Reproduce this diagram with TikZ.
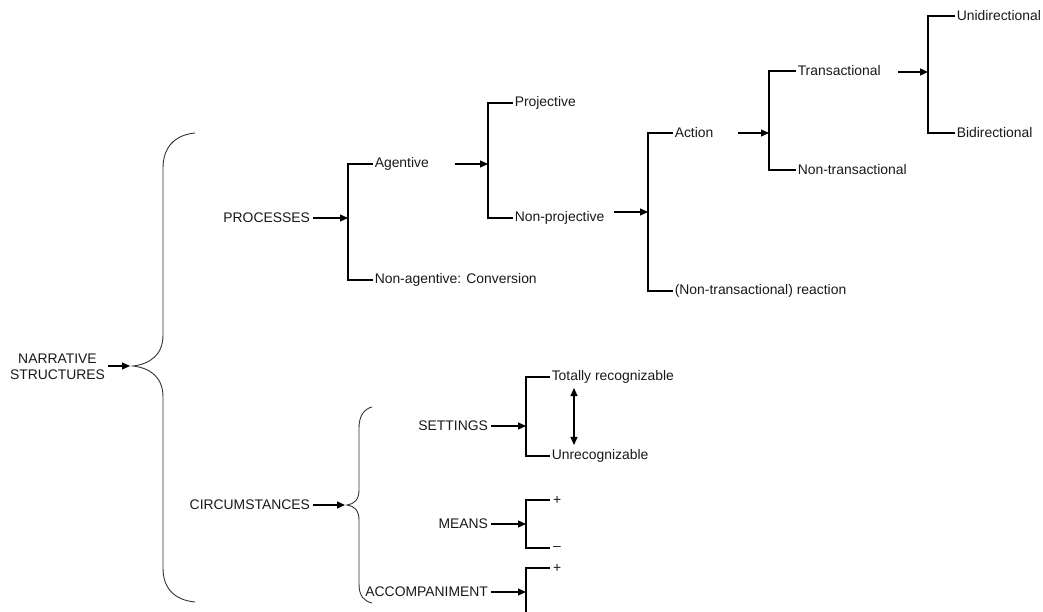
\documentclass[tikz,border=0pt]{standalone}
\usepackage{fontspec}
\setmainfont{Liberation Sans}
\usetikzlibrary{arrows.meta}
\begin{document}
\begin{tikzpicture}[x=1pt,y=-1pt,
  line width=1.1pt,
  every node/.style={font=\fontsize{13.9}{16}\selectfont, text=black!90},
  rlabel/.style={anchor=west, inner xsep=1.2pt, inner ysep=1pt},
  llabel/.style={anchor=east, inner xsep=2.5pt, inner ysep=1pt},
  arr/.style={-{Triangle[length=8pt,width=7pt]}},
  dbl/.style={{Triangle[length=8pt,width=7pt]}-{Triangle[length=8pt,width=7pt]}},
  brace/.style={line width=0.9pt, black!80}]
\clip (0,0) rectangle (1043,612);
\useasboundingbox (0,0) rectangle (1043,612);

% spines of the brackets (where the arrows land)
\coordinate (bigtip) at (133,366);
\coordinate (smalltip) at (347,505);
\coordinate (s1) at (348,218);
\coordinate (s2) at (488,164);
\coordinate (s3) at (648,212);
\coordinate (s4) at (769,133);
\coordinate (s5) at (928,72);
\coordinate (s6) at (526,426);
\coordinate (s7) at (526,524);
\coordinate (s8) at (526,592);
\coordinate (s8end) at (526,614);

% labels
\node[align=center, inner sep=2.5pt, font=\fontsize{13.9}{16}\selectfont] (narr) at (57.5,367) {NARRATIVE\\STRUCTURES};
\node[llabel] (proc) at (313,218) {PROCESSES};
\node[llabel] (circ) at (313,505) {CIRCUMSTANCES};
\node[llabel] (settings) at (491,426) {SETTINGS};
\node[llabel] (means) at (491,524) {MEANS};
\node[llabel] (accomp) at (491,592) {ACCOMPANIMENT};

\node[rlabel] (agentive) at (373,164) {Agentive};
\node[rlabel] (nonag) at (373,280) {Non-agentive: Conversion};
\node[rlabel] (projective) at (513,103) {Projective};
\node[rlabel] (nonproj) at (513,218) {Non-projective};
\node[rlabel] (action) at (673,133) {Action};
\node[rlabel] (reaction) at (673,291) {(Non-transactional) reaction};
\node[rlabel] (trans) at (796,71) {Transactional};
\node[rlabel] (nontrans) at (796,170) {Non-transactional};
\node[rlabel] (uni) at (955,16) {Unidirectional};
\node[rlabel] (bi) at (955,133) {Bidirectional};
\node[rlabel] (totally) at (550,377) {Totally recognizable};
\node[rlabel] (unrec) at (550,456) {Unrecognizable};
\node[rlabel, inner xsep=2.5pt] (mplus) at (550,500) {+};
\node[rlabel, inner xsep=2.5pt] (mminus) at (550,548) {--};
\node[rlabel, inner xsep=2.5pt] (aplus) at (550,568) {+};

% braces
\draw[brace] (195,133) .. controls (174,135) and (163,148) .. (163,168)
  -- (163,335) .. controls (163,355) and (150,364) .. (bigtip)
  .. controls (150,368) and (163,377) .. (163,397)
  -- (163,568) .. controls (163,588) and (174,600) .. (195,602);
\draw[brace] (372,407) .. controls (364,409) and (359,416) .. (359,428)
  -- (359,490) .. controls (359,500) and (354,504) .. (smalltip)
  .. controls (354,506) and (359,510) .. (359,520)
  -- (359,584) .. controls (359,596) and (364,601) .. (372,603);

% brackets
\draw (agentive.west) -| (s1) |- (nonag.west);
\draw (projective.west) -| (s2) |- (nonproj.west);
\draw (action.west) -| (s3) |- (reaction.west);
\draw (trans.west) -| (s4) |- (nontrans.west);
\draw (uni.west) -| (s5) |- (bi.west);
\draw (totally.west) -| (s6) |- (unrec.west);
\draw (mplus.west) -| (s7) |- (mminus.west);
\draw (aplus.west) -| (s8) -- (s8end);

% arrows
\draw[arr] (narr.east |- bigtip) -- ([xshift=-3pt]bigtip);
\draw[arr] (proc.east) -- (s1);
\draw[arr] (circ.east) -- ([xshift=-2pt]smalltip);
\draw[arr] (agentive.east) ++(24,0) -- (s2);
\draw[arr] (nonproj.east) ++(8,-6) -- (s3);
\draw[arr] (action.east) ++(23,0) -- (s4);
\draw[arr] (trans.east) ++(16,1) -- (s5);
\draw[arr] (settings.east) -- (s6);
\draw[arr] (means.east) -- (s7);
\draw[arr] (accomp.east) -- (s8);
\draw[dbl] ([xshift=24pt,yshift=-3pt]totally.south west) -- ([xshift=24pt,yshift=3pt]unrec.north west);
\end{tikzpicture}
\end{document}
